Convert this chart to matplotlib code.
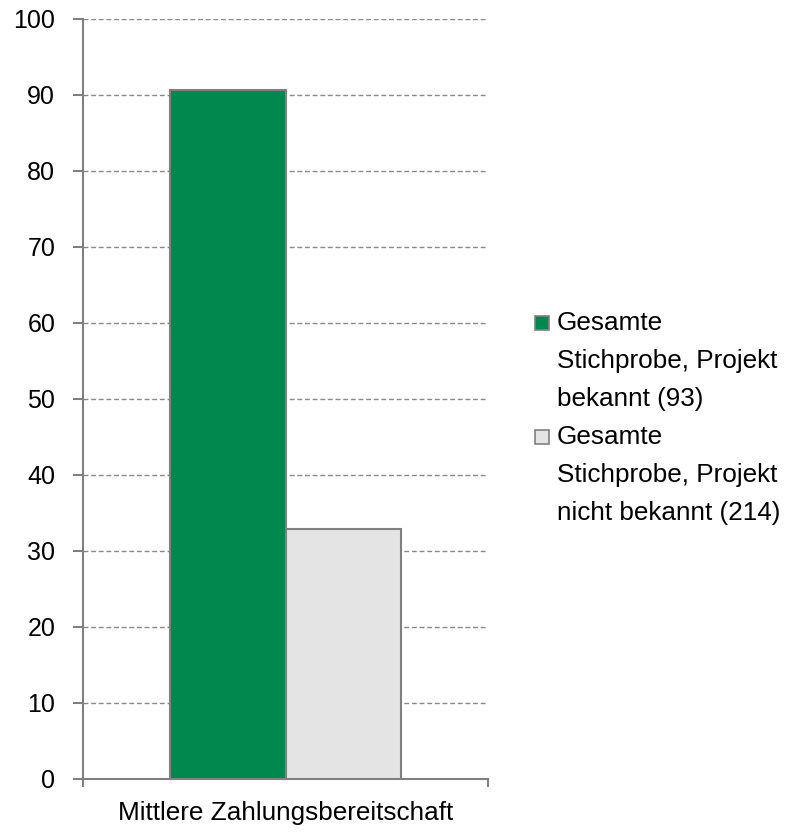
import matplotlib
matplotlib.use("Agg")
import matplotlib.pyplot as plt
from matplotlib.patches import Rectangle
from matplotlib.ticker import FixedLocator

plt.rcParams['font.family'] = ['Liberation Sans', 'DejaVu Sans']

categories = ["Mittlere Zahlungsbereitschaft"]
series_names = ["Gesamte\nStichprobe, Projekt\nbekannt (93)",
                "Gesamte\nStichprobe, Projekt\nnicht bekannt (214)"]
series_values = [[90.7], [32.9]]
colors = ["#00884F", "#E4E4E4"]
y_ticks = list(range(0, 101, 10))

W, H = 787, 835
fig = plt.figure(figsize=(W / 100, H / 100), dpi=100)
ax = fig.add_axes([83 / W, 1 - 779 / H, (488 - 83) / W, (779 - 19) / H])

bw = 0.286
offsets = [-bw / 2, bw / 2]
for vals, off, col in zip(series_values, offsets, colors):
    ax.bar([i + off for i in range(len(categories))], vals, width=bw,
           color=col, edgecolor="#808080", linewidth=1.5, zorder=3)

ax.set_xlim(-0.5, 0.5)
ax.set_ylim(0, 100)
ax.set_yticks(y_ticks)
ax.set_yticklabels([str(v) for v in y_ticks], fontsize=18)
ax.set_xticks(range(len(categories)))
ax.set_xticklabels(categories, fontsize=18.8)
ax.xaxis.set_minor_locator(FixedLocator([-0.5, 0.5]))
ax.tick_params(axis='x', which='major', length=0, pad=16)
ax.tick_params(axis='x', which='minor', length=6, width=1.5, color="#808080", direction='out')
ax.tick_params(axis='y', length=7, width=1.5, color="#808080", pad=13, direction='out')

for s in ['top', 'right']:
    ax.spines[s].set_visible(False)
for s in ['left', 'bottom']:
    ax.spines[s].set_color("#808080")
    ax.spines[s].set_linewidth(1.5)

ax.yaxis.grid(True, linestyle=(0, (3.5, 2)), color="#888888", linewidth=1, zorder=0)
ax.set_axisbelow(True)

# legend drawn manually
line_gap = 38 / H
y0 = 1 - 323 / H
row = 0
for name, col in zip(series_names, colors):
    lines = name.split("\n")
    yc = y0 - row * line_gap
    fig.patches.append(Rectangle((535 / W, yc - 7 / H), 14 / W, 14 / H,
                                 transform=fig.transFigure, facecolor=col,
                                 edgecolor="#808080", linewidth=1.2))
    for ln in lines:
        fig.text(557 / W, y0 - row * line_gap, ln, fontsize=18.8, va='center', ha='left')
        row += 1

fig.savefig("out.png", dpi=100)
